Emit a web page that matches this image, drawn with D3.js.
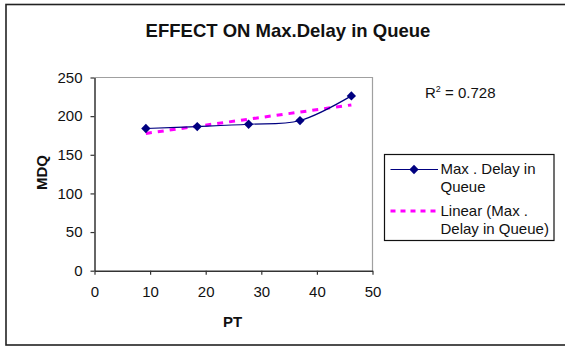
<!DOCTYPE html>
<html>
<head>
<meta charset="utf-8">
<script src="https://cdn.jsdelivr.net/npm/d3@7"></script>
<style>
  html, body { margin: 0; padding: 0; background: #fff; }
  svg { display: block; font-family: "Liberation Sans", Arial, sans-serif; }
</style>
</head>
<body>
<svg id="chart" width="565" height="347"></svg>
<script>
// ---- data ----
const ptValues = [9.24, 18.48, 27.72, 36.96, 46.2];
const mdqValues = [184, 186.5, 189.5, 194.3, 226.2];
const xTicks = [0, 10, 20, 30, 40, 50];
const yTicks = [0, 50, 100, 150, 200, 250];
const titleText = "EFFECT ON Max.Delay in Queue";
const xTitle = "PT";
const yTitle = "MDQ";
const seriesName = ["Max . Delay in", "Queue"];
const trendName = ["Linear (Max .", "Delay in Queue)"];
const r2Label = "0.728";

const svg = d3.select("#chart");

// outer chart border
svg.append("rect")
  .attr("x", 6).attr("y", 4.5).attr("width", 562).attr("height", 340.5)
  .attr("fill", "#fff").attr("stroke", "#222").attr("stroke-width", 1.6);

const x = d3.scaleLinear().domain([0, 50]).range([94.5, 372.5]);
const y = d3.scaleLinear().domain([0, 250]).range([270.7, 77.5]);

// plot area border (gray top/right)
svg.append("path")
  .attr("d", `M${x(0)},${y(250)}H${x(50)}V${y(0)}`)
  .attr("fill", "none").attr("stroke", "#a0a0a0").attr("stroke-width", 1.2);

// axes
const xAxis = svg.append("g")
  .attr("transform", `translate(0,${y(0)})`)
  .call(d3.axisBottom(x).tickValues(xTicks).tickSize(4).tickPadding(12).tickSizeOuter(0));
const yAxis = svg.append("g")
  .attr("transform", `translate(${x(0)},0)`)
  .call(d3.axisLeft(y).tickValues(yTicks).tickSize(4).tickPadding(8).tickSizeOuter(0));
[xAxis, yAxis].forEach(g => {
  g.select(".domain").attr("stroke", "#333").attr("stroke-width", 1.5);
  g.selectAll(".tick line").attr("stroke", "#333").attr("stroke-width", 1.2);
  g.selectAll(".tick text").attr("fill", "#111")
    .style("font-size", "15px").style("font-family", "'Liberation Sans', Arial, sans-serif");
});

// title
svg.append("text")
  .attr("x", 288).attr("y", 37.3).attr("text-anchor", "middle")
  .style("font-size", "18.5px").style("font-weight", "bold").attr("fill", "#111")
  .text(titleText);

// axis titles
svg.append("text")
  .attr("x", 232.5).attr("y", 327).attr("text-anchor", "middle")
  .style("font-size", "15px").style("font-weight", "bold").attr("fill", "#111")
  .text(xTitle);
svg.append("text")
  .attr("transform", "translate(46.5,172.5) rotate(-90)")
  .attr("text-anchor", "middle")
  .style("font-size", "15px").style("font-weight", "bold").attr("fill", "#111")
  .text(yTitle);

// data
const pts = ptValues.map((v, i) => [v, mdqValues[i]]);

// linear trend line (least squares)
const n = pts.length;
const mx = d3.mean(ptValues), my = d3.mean(mdqValues);
const sxy = d3.sum(pts, d => (d[0] - mx) * (d[1] - my));
const sxx = d3.sum(pts, d => (d[0] - mx) ** 2);
const slope = sxy / sxx, icpt = my - slope * mx;
const xmin = d3.min(ptValues), xmax = d3.max(ptValues);
const trend = [[xmin, icpt + slope * xmin], [xmax, icpt + slope * xmax]];

const line = d3.line().x(d => x(d[0])).y(d => y(d[1]));

svg.append("path")
  .attr("d", line(trend))
  .attr("fill", "none").attr("stroke", "#ff00ff").attr("stroke-width", 3)
  .attr("stroke-dasharray", "6,6");

svg.append("path")
  .attr("d", line.curve(d3.curveCardinal.tension(0))(pts))
  .attr("fill", "none").attr("stroke", "#000080").attr("stroke-width", 1.2);

const diamond = d3.symbol().type(d3.symbolDiamond2).size(55);
svg.selectAll(".pt").data(pts).join("path")
  .attr("class", "pt")
  .attr("transform", d => `translate(${x(d[0])},${y(d[1])})`)
  .attr("d", diamond)
  .attr("fill", "#000080");

// R^2 label
const r2 = svg.append("text")
  .attr("x", 425).attr("y", 97.7)
  .style("font-size", "15px").attr("fill", "#111");
r2.append("tspan").text("R");
r2.append("tspan").attr("dy", -6).style("font-size", "9px").text("2");
r2.append("tspan").attr("dy", 6).text(" = " + r2Label);

// legend
const lg = svg.append("g");
lg.append("rect")
  .attr("x", 384.5).attr("y", 154.5).attr("width", 169.5).attr("height", 86)
  .attr("fill", "#fff").attr("stroke", "#111").attr("stroke-width", 1.2);
lg.append("line")
  .attr("x1", 390.5).attr("x2", 438).attr("y1", 169.5).attr("y2", 169.5)
  .attr("stroke", "#000080").attr("stroke-width", 1.2);
lg.append("path")
  .attr("transform", "translate(414,169.5)")
  .attr("d", diamond).attr("fill", "#000080");
lg.append("line")
  .attr("x1", 390.5).attr("x2", 438).attr("y1", 211).attr("y2", 211)
  .attr("stroke", "#ff00ff").attr("stroke-width", 3)
  .attr("stroke-dasharray", "5,5");
const lt = (txt, yy) => lg.append("text")
  .attr("x", 440.5).attr("y", yy)
  .style("font-size", "15px").attr("fill", "#111").text(txt);
lt(seriesName[0], 174);
lt(seriesName[1], 191.5);
lt(trendName[0], 216);
lt(trendName[1], 234);
</script>
</body>
</html>
